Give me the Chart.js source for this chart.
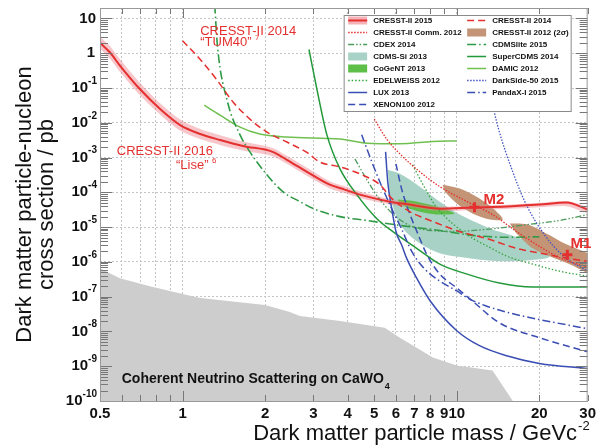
<!DOCTYPE html>
<html>
<head>
<meta charset="utf-8">
<script src="https://cdn.jsdelivr.net/npm/chart.js@4.4.1/dist/chart.umd.min.js"></script>
<style>
  html, body { margin: 0; padding: 0; background: #fff; }
  canvas { display: block; }
</style>
</head>
<body>
<canvas id="limits" width="600" height="445"></canvas>
<script>
// axes
const xTicks = [0.5, 0.6, 0.7, 0.8, 0.9, 1, 2, 3, 4, 5, 6, 7, 8, 9, 10, 20, 30];
const xLabels = ['0.5', '', '', '', '', '1', '2', '3', '4', '5', '6', '7', '8', '9', '10', '20', '30'];
const yTicks = [1e-10, 1e-9, 1e-8, 1e-7, 1e-6, 1e-5, 1e-4, 1e-3, 1e-2, 1e-1, 1, 10];

// [mass GeV, cross section pb]
const cresst16 = [[0.5,2.0],[0.544,1.05],[0.59,0.45],[0.7,0.092],[0.83,0.0246],[0.98,0.0086],[1.16,0.00475],[1.37,0.0032],[1.66,0.00216],[2.13,0.00146],[2.4,8.6e-4],[2.84,3.9e-4],[3.44,1.66e-4],[3.9,1.2e-4],[4.43,8.6e-5],[5.7,5.4e-5],[6.73,4.46e-5],[8.67,3.4e-5],[11.4,3.65e-5],[15.2,3.9e-5],[20,4.46e-5],[25.1,5.1e-5],[30,3.2e-5]];
const cresst16Hi = [[0.5,3.0],[0.544,1.6],[0.59,0.68],[0.7,0.14],[0.83,0.036],[0.98,0.0125],[1.16,0.0066],[1.37,0.0044],[1.66,0.0029],[2.13,0.0019],[2.4,0.00112],[2.84,5.1e-4],[3.44,2.1e-4],[3.9,1.5e-4],[4.43,1.06e-4],[5.7,6.4e-5],[6.73,5.2e-5],[8.67,3.9e-5],[11.4,4.1e-5],[15.2,4.4e-5],[20,5.0e-5],[25.1,5.6e-5],[30,3.6e-5]];
const cresst16Lo = [[0.5,1.35],[0.544,0.7],[0.59,0.3],[0.7,0.062],[0.83,0.017],[0.98,0.006],[1.16,0.0034],[1.37,0.0023],[1.66,0.0016],[2.13,0.0011],[2.4,6.6e-4],[2.84,3.0e-4],[3.44,1.3e-4],[3.9,9.5e-5],[4.43,6.9e-5],[5.7,4.5e-5],[6.73,3.8e-5],[8.67,2.9e-5],[11.4,3.1e-5],[15.2,3.3e-5],[20,3.7e-5],[25.1,4.0e-5],[30,2.6e-5]];
const cresst14 = [[1.0,2.3],[1.16,0.66],[1.33,0.177],[1.53,0.039],[1.76,0.0128],[2.03,0.0054],[2.4,0.0028],[2.84,0.0014],[3.16,7.5e-4],[3.75,5.4e-4],[4.43,3.4e-4],[5.24,1.66e-4],[5.8,6.6e-5],[6.73,2.8e-5],[8.17,1.46e-5],[10.2,7.5e-6],[12.8,4.75e-6],[16.5,2.46e-6],[21.2,1.66e-6],[25.1,1.28e-6],[30,1.05e-6]];
const cresstComm12 = [[5.0,0.0128],[5.55,0.0034],[6.2,0.00128],[7.33,3.9e-4],[8.67,1.46e-4],[10.9,5.4e-5],[13.5,2.3e-5],[16.5,7.5e-6],[20,2.8e-6],[24.3,1.2e-6],[30,7.1e-7]];
const cresst12M2 = [[8.88,1.66e-4],[10.25,1.28e-4],[12.1,6.6e-5],[13.7,3.2e-5],[14.7,1.66e-5],[13.2,1.66e-5],[11.4,2.46e-5],[10,4.75e-5],[9.03,1.05e-4]];
const cresst12M1 = [[15.6,1.28e-5],[18.0,1.2e-5],[21.2,6.6e-6],[25.1,3.2e-6],[30,1.77e-6],[33.2,1.28e-6],[33.2,3.2e-7],[30,4.75e-7],[25.8,8.6e-7],[21.8,1.46e-6],[18.9,2.46e-6],[16.5,6.6e-6]];
const bestFits = [[11.6,3.7e-5],[25.3,1.6e-6]];
const cdex14 = [[4.25,9.2e-4],[4.7,2.3e-4],[5.24,6.2e-5],[6.0,2.0e-5],[6.85,1.05e-5],[8.0,8.0e-6],[9.82,7.5e-6],[12.8,8.6e-6],[18.4,1.2e-5],[23.7,1.55e-5],[30,2.3e-5]];
const cdmsSi13 = [[5.6,4.45e-4],[6.2,3.4e-4],[7.33,1.46e-4],[8.67,5.4e-5],[10.25,2.3e-5],[13.2,9.2e-6],[17.4,4.45e-6],[21.8,1.46e-6],[18.4,1.12e-6],[14.3,1.05e-6],[11.1,1.28e-6],[8.67,1.77e-6],[7.14,3.9e-6],[6.2,1.2e-5],[5.7,7.5e-5]];
const cogent13 = [[6.09,6.2e-5],[6.73,5.8e-5],[7.64,4.75e-5],[8.67,3.65e-5],[9.8,2.46e-5],[8.67,2.3e-5],[7.64,2.6e-5],[6.73,3.4e-5],[6.2,4.45e-5]];
const edelweiss12 = [[6.9,6.2e-4],[7.5,1.77e-4],[8.3,4.45e-5],[9.2,1.77e-5],[10.25,8.6e-6],[11.6,4.45e-6],[13.2,2.6e-6],[15.2,1.46e-6],[18.4,9.2e-7],[23.7,5.4e-7],[30,3.9e-7]];
const lux13 = [[5.5,1.46e-3],[5.6,2.0e-4],[5.79,3.4e-5],[6.0,7.5e-6],[6.3,3.0e-6],[6.56,1.28e-6],[7.14,3.4e-7],[8.0,7.5e-8],[10,1.05e-8],[12.1,3.9e-9],[15.2,2.0e-9],[20,1.2e-9],[30,8.6e-10]];
const xenon12 = [[6.0,6.6e-4],[6.3,1.2e-4],[6.73,2.46e-5],[7.2,6.6e-6],[7.83,1.46e-6],[8.67,4.45e-7],[10,1.77e-7],[11.4,7.5e-8],[14.3,1.77e-8],[20,6.6e-9],[30,2.6e-9]];
const cdmslite15 = [[1.31,25],[1.34,1.66],[1.46,0.039],[1.62,0.0045],[1.76,0.00146],[2.03,3.2e-4],[2.32,1.05e-4],[2.68,5.4e-5],[3.0,3.4e-5],[3.75,2.0e-5],[4.7,1.55e-5],[6.2,1.12e-5],[8.67,8.0e-6],[11.4,5.8e-6],[15.2,5.1e-6],[20,5.3e-6]];
const superCdms14 = [[2.89,1.28],[3.09,0.092],[3.36,0.0045],[3.75,4.75e-4],[4.32,8.6e-5],[5.1,1.77e-5],[5.83,7.5e-6],[7.14,2.46e-6],[8.67,8.6e-7],[10.9,4.45e-7],[14.3,2.46e-7],[18.9,1.9e-7],[30,1.9e-7]];
const damic12 = [[1.2,0.032],[1.37,0.0166],[1.62,0.0075],[1.91,0.00475],[2.4,0.0039],[3.75,0.0034],[4.7,0.0026],[6.2,0.0025],[8.17,0.0029],[10,0.003]];
const darkside15 = [[13.3,0.06],[13.7,0.0202],[14.3,5.4e-3],[15.85,4.75e-4],[17.7,5.4e-5],[20.7,6.6e-6],[24.5,1.46e-6],[30,5.4e-7]];
const pandax15 = [[4.5,4.5e-3],[4.9,7.5e-4],[5.33,1.46e-4],[5.79,3.4e-5],[6.3,8.6e-6],[6.85,2.0e-6],[7.64,6.2e-7],[8.67,2.8e-7],[10,1.46e-7],[11.1,8.6e-8],[12.8,5.4e-8],[15.6,3.4e-8],[20,2.2e-8],[30,1.2e-8]];
const neutrinoFloor = [[0.5,6.6e-7],[0.59,3.4e-7],[0.76,2.0e-7],[1.0,1.2e-7],[1.16,9.2e-8],[2.0,5.8e-8],[2.46,3.65e-8],[2.68,2.8e-8],[3.75,2.0e-8],[5.46,1.28e-8],[6.2,6.6e-9],[7.14,3.4e-9],[8.17,1.77e-9],[10,1.05e-9],[13.5,7.5e-10],[16.0,1e-10]];

const legendLeft = ['CRESST-II 2015', 'CRESST-II Comm. 2012', 'CDEX 2014', 'CDMS-Si 2013', 'CoGeNT 2013', 'EDELWEISS 2012', 'LUX 2013', 'XENON100 2012'];
const legendRight = ['CRESST-II 2014', 'CRESST-II 2012 (2σ)', 'CDMSlite 2015', 'SuperCDMS 2014', 'DAMIC 2012', 'DarkSide-50 2015', 'PandaX-I 2015'];

const RED = '#e4302f';
const BLUE = '#3a4db3';
const FONT = '"Liberation Sans", Arial, sans-serif';
const xy = pts => pts.map(([x, y]) => ({ x, y }));

function curve(label, pts, color, dash, width, order) {
  return {
    label, data: xy(pts), borderColor: color, borderDash: dash || [], borderWidth: width || 1.4,
    fill: false, pointRadius: 0, cubicInterpolationMode: 'monotone', order: order || 10
  };
}
function area(label, pts, color, order) {
  return {
    label, data: xy(pts), backgroundColor: color, borderWidth: 0, borderColor: color,
    fill: 'shape', pointRadius: 0, tension: 0.3, order, legendKind: 'fill'
  };
}

const datasets = [
  { label: 'best fit', data: xy(bestFits), showLine: false, pointStyle: 'cross', pointRadius: 5,
    pointBorderWidth: 3, pointBorderColor: RED, borderColor: RED, order: 0 },
  Object.assign(curve('CRESST-II 2015', cresst16, RED, [], 2, 1), { legendFill: 'rgba(238,128,138,0.6)' }),
  curve('CRESST-II 2014', cresst14, RED, [7, 4], 1.5, 2),
  curve('CRESST-II Comm. 2012', cresstComm12, RED, [1.5, 1.5], 1.3, 3),
  curve('DarkSide-50 2015', darkside15, '#4455c4', [1.5, 1.5], 1.3, 4),
  curve('PandaX-I 2015', pandax15, BLUE, [8, 3, 1.5, 3], 1.5, 5),
  curve('XENON100 2012', xenon12, BLUE, [7, 4], 1.5, 6),
  curve('LUX 2013', lux13, BLUE, [], 1.5, 7),
  curve('EDELWEISS 2012', edelweiss12, '#35a53f', [1.5, 2], 1.3, 8),
  curve('CDEX 2014', cdex14, '#4b9a5c', [6, 2, 1.5, 2, 1.5, 2], 1.3, 9),
  curve('CDMSlite 2015', cdmslite15, '#2f9a45', [9, 3, 1.5, 3], 1.6, 10),
  curve('SuperCDMS 2014', superCdms14, '#22993a', [], 1.5, 11),
  curve('DAMIC 2012', damic12, '#70c050', [], 1.5, 12),
  { label: '', data: xy(cresst16Hi.concat(cresst16Lo.slice().reverse())), backgroundColor: 'rgba(238,128,138,0.45)',
    borderWidth: 0, fill: 'shape', pointRadius: 0, tension: 0.3, order: 30 },
  area('CoGeNT 2013', cogent13, '#5dbe48', 31),
  area('CRESST-II 2012 (2σ)', cresst12M2, '#c39476', 32),
  area('CRESST-II 2012 (2σ) M1', cresst12M1, '#c39476', 33),
  area('CDMS-Si 2013', cdmsSi13, '#a7d2c5', 40),
  { label: 'neutrino', data: xy(neutrinoFloor), backgroundColor: '#cdcdcd', borderWidth: 0,
    fill: 'start', pointRadius: 0, tension: 0, order: 50 }
];

const notes = [
  { text: 'CRESST-II 2014', m: 1.16, s: 3.4, size: 13, align: 'left' },
  { text: '“TUM40”', sup: '7', m: 1.16, s: 1.66, size: 13, align: 'left' },
  { text: 'CRESST-II 2016', m: 1.33, s: 1.2e-3, size: 13, align: 'right' },
  { text: '“Lise”', sup: '6', m: 1.33, s: 4.75e-4, size: 13, align: 'right' },
  { text: 'M2', m: 12.5, s: 4.75e-5, size: 15, bold: true, align: 'left' },
  { text: 'M1', m: 26, s: 2.46e-6, size: 15, bold: true, align: 'left' }
];

const decor = {
  id: 'decor',
  afterDatasetsDraw(chart) {
    const { ctx, chartArea: a, scales: { x, y } } = chart;
    const seg = (x1, y1, x2, y2) => { ctx.beginPath(); ctx.moveTo(x1, y1); ctx.lineTo(x2, y2); ctx.stroke(); };
    ctx.save();

    // inward tick marks
    ctx.strokeStyle = '#777';
    ctx.lineWidth = 1;
    for (let e = -10; e <= 1; e++) {
      for (let k = 1; k < 10; k++) {
        const v = k * Math.pow(10, e);
        if (v > 20) continue;
        const py = Math.round(y.getPixelForValue(v)) + 0.5;
        const len = k === 1 ? 12 : 8;
        seg(a.left, py, a.left + len, py);
        seg(a.right - len, py, a.right, py);
      }
    }
    xTicks.forEach(v => {
      const px = Math.round(x.getPixelForValue(v)) + 0.5;
      const len = (v === 1 || v === 10) ? 10 : 6;
      seg(px, a.bottom, px, a.bottom - len);
      seg(px, a.top, px, a.top + len);
    });

    // frame
    ctx.strokeStyle = '#999';
    ctx.strokeRect(a.left + 0.5, a.top + 0.5, a.right - a.left - 1, a.bottom - a.top);

    // y tick labels with superscript exponents
    ctx.fillStyle = '#111';
    ctx.textBaseline = 'middle';
    ctx.textAlign = 'right';
    yTicks.forEach(v => {
      const ex = Math.round(Math.log10(v));
      const py = y.getPixelForValue(v);
      ctx.font = 'bold 15px ' + FONT;
      if (ex === 0) { ctx.fillText('1', a.left - 5, py); return; }
      if (ex === 1) { ctx.fillText('10', a.left - 4, py); return; }
      ctx.font = 'bold 10px ' + FONT;
      const sup = String(ex);
      const w = ctx.measureText(sup).width;
      ctx.fillText(sup, a.left - 3, py - 7);
      ctx.font = 'bold 15px ' + FONT;
      ctx.fillText('10', a.left - 3 - w, py);
    });

    // x axis title with superscript
    ctx.textBaseline = 'alphabetic';
    ctx.font = '13px ' + FONT;
    const xsup = '-2';
    const xsw = ctx.measureText(xsup).width;
    ctx.fillText(xsup, a.right + 2, 430);
    ctx.font = '22px ' + FONT;
    ctx.fillText('Dark matter particle mass / GeVc', a.right + 1 - xsw, 440);

    // text notes
    ctx.fillStyle = RED;
    ctx.textAlign = 'left';
    notes.forEach(n => {
      const px = x.getPixelForValue(n.m);
      const py = y.getPixelForValue(n.s);
      const f = (n.bold ? 'bold ' : '') + n.size + 'px ' + FONT;
      const fs = Math.round(n.size * 0.62) + 'px ' + FONT;
      ctx.font = f;
      const tw = ctx.measureText(n.text + ' ').width;
      ctx.font = fs;
      const sw = n.sup ? ctx.measureText(n.sup).width : 0;
      const x0 = n.align === 'right' ? px - tw - sw : px;
      ctx.font = f;
      ctx.fillText(n.text, x0, py);
      if (n.sup) { ctx.font = fs; ctx.fillText(n.sup, x0 + tw, py - 6); }
    });

    // neutrino floor caption
    ctx.fillStyle = '#111';
    ctx.font = 'bold 14px ' + FONT;
    const cx = x.getPixelForValue(0.6), cy = y.getPixelForValue(3.2e-10);
    const cap = 'Coherent Neutrino Scattering on CaWO';
    ctx.fillText(cap, cx, cy);
    const capW = ctx.measureText(cap).width;
    ctx.font = 'bold 9px ' + FONT;
    ctx.fillText('4', cx + capW + 1, cy + 6);

    // legend box
    const bw = 227, bh = 96;
    const bx = a.right - 17 - bw + 0.5, by = a.top + 7 + 0.5;
    ctx.fillStyle = '#fff';
    ctx.fillRect(bx, by, bw, bh);
    ctx.strokeStyle = '#8a8a8a';
    ctx.strokeRect(bx, by, bw, bh);
    ctx.font = 'bold 8px ' + FONT;
    ctx.textBaseline = 'middle';
    [legendLeft, legendRight].forEach((col, c) => {
      const sx = bx + (c === 0 ? 4 : 123);
      col.forEach((name, i) => {
        const d = chart.data.datasets.find(ds => ds.label === name);
        const ry = by + 5 + i * 12;
        if (d.legendKind === 'fill' || d.legendFill) {
          ctx.fillStyle = d.legendFill || d.backgroundColor;
          ctx.fillRect(sx, ry - 4, 19, 8);
        }
        if (d.legendKind !== 'fill') {
          ctx.strokeStyle = d.borderColor;
          ctx.lineWidth = Math.max(1.3, d.borderWidth);
          ctx.setLineDash(d.borderDash || []);
          seg(sx, ry, sx + 19, ry);
          ctx.setLineDash([]);
        }
        ctx.fillStyle = '#111';
        ctx.fillText(name, sx + 25, ry + 0.5);
      });
    });
    ctx.restore();
  }
};

Chart.defaults.font.family = '"Liberation Sans", Arial, Helvetica, sans-serif';

new Chart(document.getElementById('limits'), {
  type: 'line',
  data: { datasets },
  plugins: [decor],
  options: {
    responsive: false,
    animation: false,
    events: [],
    layout: { padding: { top: 5, right: 12, left: 0, bottom: 0 } },
    plugins: { legend: { display: false }, tooltip: { enabled: false } },
    scales: {
      x: {
        type: 'logarithmic', min: 0.5, max: 30,
        afterBuildTicks: s => { s.ticks = xTicks.map(v => ({ value: v })); },
        afterFit: s => { s.height = 44; },
        ticks: { autoSkip: false, maxRotation: 0, padding: 4, color: '#111',
          font: { size: 15, weight: 'bold' }, callback: (v, i) => xLabels[i] },
        grid: { drawTicks: false, lineWidth: 1,
          color: c => (c.tick && (c.tick.value === 0.5 || c.tick.value === 30)) ? 'rgba(0,0,0,0)' : '#c4c4c4' },
        border: { display: false, dash: [2, 2] },
        title: { display: false }
      },
      y: {
        type: 'logarithmic', min: 1e-10, max: 20,
        afterBuildTicks: s => { s.ticks = yTicks.map(v => ({ value: v })); },
        afterFit: s => { s.width = 100; },
        ticks: { display: false },
        grid: { drawTicks: false, lineWidth: 1,
          color: c => (c.tick && c.tick.value === 1e-10) ? 'rgba(0,0,0,0)' : '#c4c4c4' },
        border: { display: false, dash: [2, 2] },
        title: { display: true, text: ['Dark matter particle-nucleon', 'cross section / pb'], color: '#111',
          font: { size: 22, lineHeight: 1.0 }, padding: { top: 14, bottom: 0 } }
      }
    }
  }
});
</script>
</body>
</html>
